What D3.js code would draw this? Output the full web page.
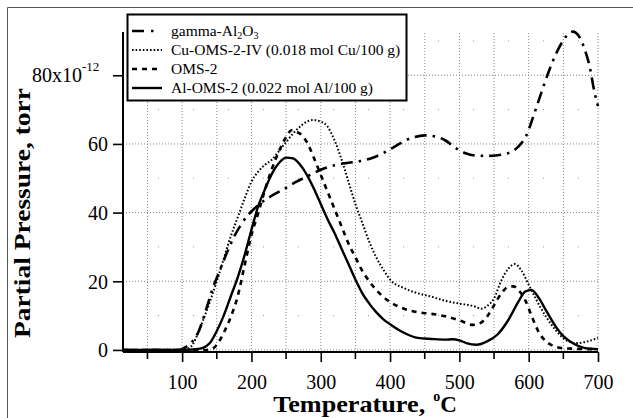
<!DOCTYPE html>
<html>
<head>
<meta charset="utf-8">
<script src="https://cdn.jsdelivr.net/npm/d3@7"></script>
<style>
  body { margin: 0; background: #fff; }
  svg { display: block; font-family: "Liberation Serif", "Times New Roman", serif; }
</style>
</head>
<body>
<svg class="tpd" width="633" height="418"></svg>
<script>
// series (temperature in C, pressure in 1e-12 torr)
let gammaT = [15, 95, 105, 115, 123, 135, 145, 155, 165, 175, 185, 195, 205, 215, 230, 250, 265, 285, 300, 320, 340, 357, 375, 390, 405, 420, 435, 450, 465, 480, 495, 510, 525, 540, 555, 570, 585, 597, 605, 615, 628, 640, 650, 657, 664, 672, 680, 688, 695, 700];
let gammaP = [0, 0, 0.8, 2.5, 5, 12, 18.4, 23.5, 28.5, 33, 36.5, 39.3, 41.3, 43, 45, 47.2, 49, 51, 52.5, 53.8, 54.5, 55, 56, 57.3, 59, 60.8, 62, 62.5, 62.2, 61, 58.8, 57.2, 56.6, 56.5, 56.7, 57.3, 59.2, 62.6, 67, 73, 80.6, 86.5, 90.2, 92, 92.7, 91.5, 88, 82.5, 75, 71];

let cuT = [15, 100, 110, 115, 123, 130, 140, 150, 160, 170, 180, 190, 200, 210, 220, 230, 240, 250, 260, 270, 280, 290, 295, 300, 310, 320, 330, 340, 350, 360, 370, 380, 390, 400, 420, 440, 460, 480, 500, 520, 532, 540, 550, 560, 570, 580, 590, 600, 610, 625, 640, 650, 660, 670, 685, 700];
let cuP = [0, 0.1, 0.5, 1.5, 4.9, 8.5, 14, 20, 26.5, 33, 38.5, 44, 49, 52, 54, 55.5, 58, 60.5, 63, 65, 66.5, 67, 66.8, 66.5, 65, 61, 55.5, 49, 42.5, 37, 31.5, 27, 23.5, 20.5, 18, 16.5, 15.5, 14.3, 13.5, 12.8, 12, 12.8, 15, 20, 23.5, 25, 23, 19, 15, 9.7, 5.5, 3.4, 2.3, 2, 2.5, 3.5];

let omsT = [15, 135, 145, 150, 160, 170, 180, 190, 200, 210, 220, 230, 240, 250, 258, 265, 270, 280, 290, 300, 310, 320, 330, 340, 350, 360, 370, 380, 390, 400, 420, 440, 460, 480, 500, 520, 530, 540, 550, 560, 570, 578, 585, 595, 605, 615, 625, 635, 650, 700];
let omsP = [0, 0, 0.5, 1.5, 5, 9.5, 15.5, 24.5, 33.5, 40, 47, 53, 58, 62, 64, 63.5, 63, 60.5, 56, 51, 46, 41, 36, 31, 27, 23, 20, 17.5, 15.5, 14, 12, 11, 10.5, 9.8, 8.6, 7.3, 7.8, 9.7, 13, 16.3, 18.3, 18.5, 17.5, 14.5, 9.5, 5, 2.5, 1.2, 0.5, 0.2];

let alT = [15, 100, 120, 130, 140, 150, 160, 170, 180, 190, 200, 210, 220, 230, 240, 250, 260, 270, 280, 290, 300, 310, 320, 330, 340, 350, 360, 370, 380, 390, 400, 420, 440, 460, 480, 490, 500, 510, 525, 540, 555, 570, 585, 595, 604, 615, 625, 640, 650, 665, 680, 700];
let alP = [0, 0, 0.2, 0.6, 2, 5.5, 10, 15.5, 21, 27.5, 35, 42, 47, 51.5, 54.5, 56, 55.8, 54, 51, 47, 42.5, 38, 34, 29.5, 25, 20.5, 16.5, 13.5, 11, 9, 7.5, 5, 3.5, 3.2, 3, 3.1, 2.8, 2, 1.5, 2.5, 4.5, 8.5, 14, 17, 17.5, 15, 11.5, 6.5, 4, 1.8, 0.6, 0.2];

let seriesNames = ["gamma-Al2O3", "Cu-OMS-2-IV (0.018 mol Cu/100 g)", "OMS-2", "Al-OMS-2 (0.022 mol Al/100 g)"];
let xTicks = [100, 200, 300, 400, 500, 600, 700];
let xMinor = [50, 150, 250, 350, 450, 550, 650];
let yTicks = [0, 20, 40, 60, 80];

let svg = d3.select("svg.tpd");

// frame of the scanned figure
svg.append("path")
  .attr("d", "M7.5,418 V7.5 H633")
  .attr("fill", "none")
  .attr("stroke", "#555")
  .attr("stroke-width", 1);

let x = d3.scaleLinear().domain([14.7, 700]).range([123, 598]);
let y = d3.scaleLinear().domain([-0.6, 92.6]).range([352, 32]);

let grid = svg.append("g").attr("id", "grid");
// faint minor horizontal grid
grid.selectAll(".hminor")
  .data([10, 30, 50, 70, 90])
  .enter().append("line")
  .attr("x1", 123).attr("x2", 598)
  .attr("y1", d => y(d)).attr("y2", d => y(d))
  .attr("stroke", "#999").attr("stroke-width", 1)
  .attr("stroke-dasharray", "1,34");
grid.selectAll(".h")
  .data(yTicks)
  .enter().append("line")
  .attr("x1", 123).attr("x2", 598)
  .attr("y1", d => y(d)).attr("y2", d => y(d))
  .attr("stroke", "#888").attr("stroke-width", 1)
  .attr("stroke-dasharray", "1,2");
grid.selectAll(".v")
  .data(xMinor.concat(xTicks))
  .enter().append("line")
  .attr("x1", d => x(d)).attr("x2", d => x(d))
  .attr("y1", y(-0.6)).attr("y2", 32)
  .attr("stroke", "#888").attr("stroke-width", 1)
  .attr("stroke-dasharray", "1,2");

// curves
let line = d3.line()
  .x(d => x(d[0]))
  .y(d => y(d[1]))
  .curve(d3.curveMonotoneX);

let styles = [
  {dash: "12,6,2.5,6", width: 2.6},
  {dash: "1.6,2", width: 2},
  {dash: "5,5", width: 2.6},
  {dash: null, width: 2.4}
];
let sets = [[gammaT, gammaP], [cuT, cuP], [omsT, omsP], [alT, alP]];

let plot = svg.append("g").attr("id", "plot");
sets.forEach(function(s, i) {
  let pts = d3.zip(s[0], s[1]);
  plot.append("path")
    .datum(pts)
    .attr("d", line)
    .attr("fill", "none")
    .attr("stroke", "#000")
    .attr("stroke-width", styles[i].width)
    .attr("stroke-dasharray", styles[i].dash)
    .attr("stroke-linecap", "butt");
});

// axes
let xAxis = d3.axisBottom(x).tickValues(xTicks).tickSize(10).tickPadding(13).tickFormat(d3.format("d"));
let xGroup = svg.append("g").attr("id", "x-axis").attr("transform", translate(0, 352));
xGroup.call(xAxis);
xGroup.selectAll(".tick line").attr("stroke-width", 1.6);
xGroup.select(".domain").attr("d", "M123,0H598").attr("stroke-width", 2);
xGroup.selectAll(".minor")
  .data(xMinor)
  .enter().append("line")
  .attr("class", "minor")
  .attr("x1", d => x(d)).attr("x2", d => x(d))
  .attr("y1", 0).attr("y2", 7)
  .attr("stroke", "#000").attr("stroke-width", 1.6);
xGroup.selectAll("text").attr("font-size", 20).attr("font-family", "Liberation Serif");

let yAxis = d3.axisLeft(y).tickValues(yTicks).tickSize(10).tickPadding(5).tickFormat(d => d === 80 ? "" : d);
let yGroup = svg.append("g").attr("id", "y-axis").attr("transform", translate(123, 0));
yGroup.call(yAxis);
yGroup.select(".domain").attr("d", "M0,32V352").attr("stroke-width", 2);
yGroup.selectAll(".tick line").attr("stroke-width", 1.6);
yGroup.selectAll("text").attr("font-size", 20).attr("font-family", "Liberation Serif").attr("dy", "0.34em");

// 80x10^-12 label
let topLabel = svg.append("text")
  .attr("x", 32).attr("y", y(80) + 6.5)
  .attr("font-size", 20);
topLabel.append("tspan").text("80x10");
topLabel.append("tspan").attr("font-size", 13).attr("dy", -11).text("-12");

// axis titles
let xt = svg.append("text")
  .attr("x", 365).attr("y", 412)
  .attr("text-anchor", "middle")
  .attr("font-size", 23).attr("font-weight", "bold");
xt.append("tspan").attr("textLength", 152).attr("lengthAdjust", "spacingAndGlyphs").text("Temperature,");
xt.append("tspan").attr("font-size", 14).attr("dx", 8).attr("dy", -11).text("o");
xt.append("tspan").attr("dy", 11).text("C");

svg.append("text")
  .attr("transform", "translate(30,213) rotate(-90)")
  .attr("text-anchor", "middle")
  .attr("font-size", 24).attr("font-weight", "bold")
  .attr("textLength", 250).attr("lengthAdjust", "spacingAndGlyphs")
  .text("Partial Pressure, torr");

// legend
let legend = svg.append("g").attr("id", "legend");
legend.append("rect")
  .attr("x", 127.5).attr("y", 14.5).attr("width", 279).attr("height", 86)
  .attr("fill", "#fff").attr("stroke", "#000").attr("stroke-width", 2);
let rowY = [31, 50, 69, 88];
seriesNames.forEach(function(name, i) {
  let ly = rowY[i];
  legend.append("line")
    .attr("x1", 132).attr("x2", 162).attr("y1", ly).attr("y2", ly)
    .attr("stroke", "#000")
    .attr("stroke-width", styles[i].width)
    .attr("stroke-dasharray", i === 0 ? "12,7,2.5,20" : styles[i].dash);
  let t = legend.append("text")
    .attr("x", 171).attr("y", ly + 5)
    .attr("font-size", 15.5);
  if (i === 0) {
    t.append("tspan").text("gamma-Al");
    t.append("tspan").attr("font-size", 10).attr("dy", 3).text("2");
    t.append("tspan").attr("dy", -3).text("O");
    t.append("tspan").attr("font-size", 10).attr("dy", 3).text("3");
  } else {
    t.text(name);
  }
});

function translate(x, y) {
  return 'translate(' + x + ',' + y + ')';
}
</script>
</body>
</html>
